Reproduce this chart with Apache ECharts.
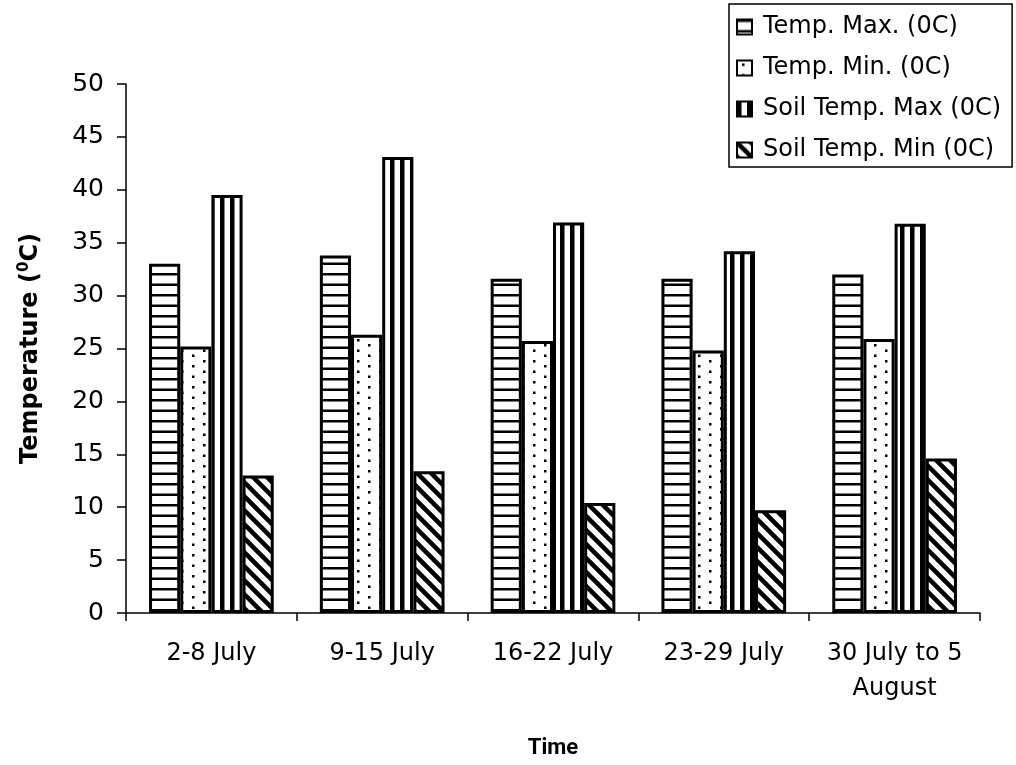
<!DOCTYPE html>
<html>
<head>
<meta charset="utf-8">
<title>Weekly air and soil temperature</title>
<script src="https://cdn.jsdelivr.net/npm/echarts@6/dist/echarts.min.js"></script>
<style>
  html, body { margin: 0; padding: 0; background: #fff; }
  #chart { width: 1016px; height: 765px; }
</style>
</head>
<body>
<div id="chart"></div>
<script>
// Weekly periods and measured temperatures (°C)
const categories = ['2-8 July', '9-15 July', '16-22 July', '23-29 July', '30 July to 5\nAugust'];
const seriesNames = ['Temp. Max. (0C)', 'Temp. Min. (0C)', 'Soil Temp. Max (0C)', 'Soil Temp. Min (0C)'];
const tempMax = [33.0, 33.8, 31.6, 31.6, 32.0];
const tempMin = [25.2, 26.3, 25.7, 24.8, 25.9];
const soilMax = [39.5, 43.1, 36.9, 34.2, 36.8];
const soilMin = [13.0, 13.4, 10.4, 9.7, 14.6];
const yTicks = { min: 0, max: 50, step: 5 };

// Monochrome hatch fills drawn on small tiles
function tile(w, h, draw) {
  const c = document.createElement('canvas');
  c.width = w; c.height = h;
  const ctx = c.getContext('2d');
  ctx.fillStyle = '#fff';
  ctx.fillRect(0, 0, w, h);
  ctx.fillStyle = '#000';
  ctx.strokeStyle = '#000';
  draw(ctx, w, h);
  return { image: c, repeat: 'repeat' };
}

const hLines = tile(4, 21, (ctx) => {
  ctx.fillRect(0, 0, 4, 2.5);
  ctx.fillRect(0, 10.5, 4, 2.5);
});

const dots = tile(22, 21, (ctx) => {
  const pts = [[5, 3], [16, 8], [5, 13.5], [16, 18.5]];
  pts.forEach(([x, y]) => ctx.fillRect(x, y, 2.5, 2.5));
});

const vLines = tile(10, 4, (ctx) => {
  ctx.fillRect(0, 0, 4.5, 4);
});

const diag = tile(14, 14, (ctx) => {
  ctx.lineWidth = 4.5;
  for (let k = -1; k <= 1; k++) {
    ctx.beginPath();
    ctx.moveTo(k * 14 - 2, -2);
    ctx.lineTo(k * 14 + 16, 16);
    ctx.stroke();
  }
});

const fills = [hLines, dots, vLines, diag];
const values = [tempMax, tempMin, soilMax, soilMin];

const sans = '"DejaVu Sans", "Liberation Sans", sans-serif';
const titleFont = '"Liberation Sans Narrow", Roboto, "DejaVu Sans", sans-serif';

const chart = echarts.init(document.getElementById('chart'), null, { renderer: 'canvas' });

chart.setOption({
  backgroundColor: '#fff',
  animation: false,
  grid: { left: 126, right: 36, top: 84, bottom: 152, containLabel: false },
  legend: {
    orient: 'vertical',
    left: 729,
    top: 4,
    padding: [11, 11, 5, 7],
    itemGap: 17,
    itemWidth: 15,
    itemHeight: 15,
    borderColor: '#000',
    borderWidth: 1.5,
    backgroundColor: '#fff',
    icon: 'rect',
    textStyle: { fontFamily: sans, fontSize: 24, color: '#000', lineHeight: 23, padding: [0, 0, 0, 6] },
    data: seriesNames
  },
  xAxis: {
    type: 'category',
    data: categories,
    name: 'Time',
    nameLocation: 'middle',
    nameGap: 124,
    nameTextStyle: { fontFamily: titleFont, fontSize: 22, fontWeight: 'bold', color: '#000' },
    axisLine: { lineStyle: { color: '#000', width: 1.5 } },
    axisTick: { show: true, length: 8, lineStyle: { color: '#000', width: 1.5 } },
    axisLabel: {
      interval: 0,
      hideOverlap: false,
      fontFamily: sans,
      fontSize: 24,
      color: '#000',
      margin: 23,
      lineHeight: 35
    },
    splitLine: { show: false }
  },
  yAxis: {
    type: 'value',
    min: yTicks.min,
    max: yTicks.max,
    interval: yTicks.step,
    name: '{n|Temperature (}{s|0}{n|C)}',
    nameLocation: 'middle',
    nameRotate: 90,
    nameGap: 81,
    nameTextStyle: {
      rich: {
        n: { fontFamily: sans, fontSize: 24, fontWeight: 'bold', color: '#000', lineHeight: 28 },
        s: { fontFamily: sans, fontSize: 15, fontWeight: 'bold', color: '#000', lineHeight: 28, verticalAlign: 'top' }
      }
    },
    axisLine: { show: true, lineStyle: { color: '#000', width: 1.5 } },
    axisTick: { show: true, length: 9, lineStyle: { color: '#000', width: 1.5 } },
    axisLabel: { fontFamily: sans, fontSize: 25, color: '#000', margin: 22 },
    splitLine: { show: false }
  },
  series: seriesNames.map((name, i) => ({
    name,
    type: 'bar',
    data: values[i],
    barGap: '0%',
    barCategoryGap: '27%',
    itemStyle: { color: fills[i], borderColor: '#000', borderWidth: 3 }
  }))
});
</script>
</body>
</html>
